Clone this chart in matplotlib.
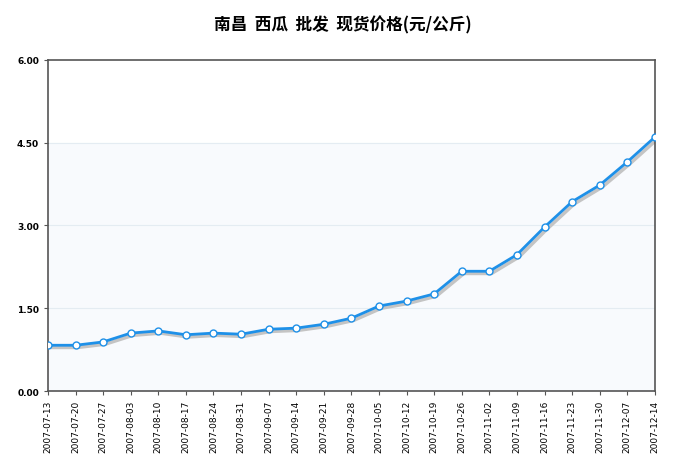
import matplotlib.pyplot as plt
import numpy as np

plt.rcParams['font.family'] = ['Noto Sans CJK SC', 'DejaVu Sans']

dates = ['2007-07-13', '2007-07-20', '2007-07-27', '2007-08-03', '2007-08-10', '2007-08-17',
         '2007-08-24', '2007-08-31', '2007-09-07', '2007-09-14', '2007-09-21', '2007-09-28',
         '2007-10-05', '2007-10-12', '2007-10-19', '2007-10-26', '2007-11-02', '2007-11-09',
         '2007-11-16', '2007-11-23', '2007-11-30', '2007-12-07', '2007-12-14']
prices = [0.83, 0.83, 0.89, 1.05, 1.09, 1.02, 1.05, 1.03, 1.12, 1.14, 1.21, 1.32,
          1.54, 1.63, 1.76, 2.17, 2.17, 2.47, 2.97, 3.43, 3.73, 4.15, 4.60]
yticks = [0.0, 1.5, 3.0, 4.5, 6.0]

fig = plt.figure(figsize=(6.85, 4.64), dpi=100)
ax = fig.add_axes([0.070, 0.155, 0.886, 0.714])
x = np.arange(len(dates))

# background bands
ax.axhspan(0, 4.5, color='#f8fafd', zorder=0)
for y in yticks[1:-1]:
    ax.axhline(y, color='#e4ecf2', lw=0.8, zorder=1)

# shadow then line
ax.plot(x + 0.08, np.array(prices) - 0.04, color='#c4c4c4', lw=2.5, zorder=2)
ax.plot(x, prices, color='#1e90e8', lw=2, marker='o', markersize=5,
        markerfacecolor='white', markeredgecolor='#1e90e8', markeredgewidth=1, zorder=3)

ax.set_xlim(0, len(dates) - 1)
ax.set_ylim(0, 6)
ax.set_xticks(x)
ax.set_xticklabels(dates, rotation=90, fontsize=6.5, family='DejaVu Sans')
ax.set_yticks(yticks)
ax.set_yticklabels(['%.2f' % v for v in yticks], fontsize=6.5, fontweight='bold', family='DejaVu Sans')
ax.tick_params(length=3, color='#555555')
for s in ax.spines.values():
    s.set_color('#555555')
    s.set_linewidth(1.2)

fig.text(0.5, 0.945, '南昌  西瓜  批发  现货价格(元/公斤)', ha='center', va='center',
         fontsize=12, fontweight='bold')

fig.savefig('out.png')
